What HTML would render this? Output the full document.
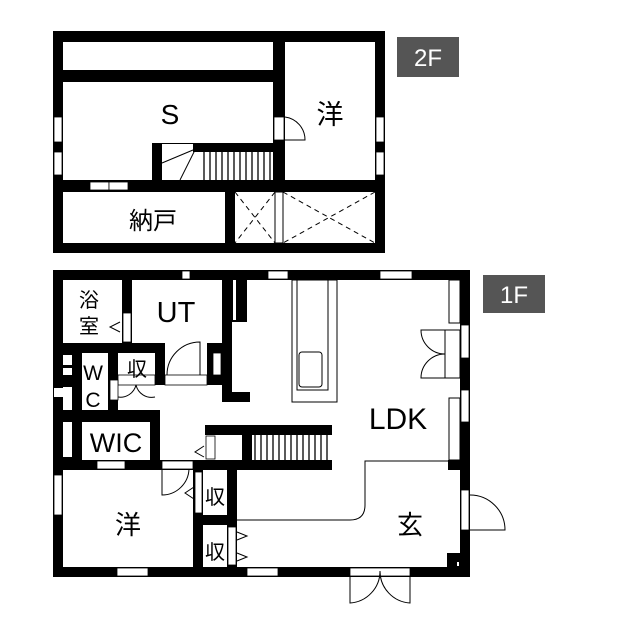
<!DOCTYPE html>
<html><head><meta charset="utf-8"><style>html,body{margin:0;padding:0;background:#fff}svg{display:block}</style></head><body>
<svg width="640" height="640" viewBox="0 0 640 640" xmlns="http://www.w3.org/2000/svg" font-family="Liberation Sans, Noto Sans CJK JP, sans-serif">
<rect width="640" height="640" fill="#fff"/>
<!-- ===== 2F ===== -->
<rect x="53" y="31" width="332" height="222" fill="#000"/>
<rect x="63" y="42" width="312" height="201" fill="#fff"/>
<rect x="63" y="70" width="210" height="12" fill="#000"/>
<rect x="273" y="42" width="12" height="145" fill="#000"/>
<rect x="63" y="180" width="312" height="12" fill="#000"/>
<rect x="225" y="192" width="10" height="51" fill="#000"/>
<rect x="275" y="192" width="8" height="51" fill="#fff" stroke="#000" stroke-width="1"/>
<rect x="152" y="143" width="10" height="37" fill="#000"/>
<rect x="193" y="143" width="92" height="9" fill="#000"/>
<line x1="162" y1="143.5" x2="193" y2="143.5" stroke="#000"/>
<line x1="162" y1="163" x2="193" y2="150" stroke="#000"/>
<line x1="180" y1="180" x2="195" y2="150" stroke="#000"/>
<g stroke="#000" stroke-width="1.3">
<line x1="204" y1="152" x2="204" y2="180"/><line x1="210" y1="152" x2="210" y2="180"/><line x1="216" y1="152" x2="216" y2="180"/><line x1="222" y1="152" x2="222" y2="180"/><line x1="228" y1="152" x2="228" y2="180"/><line x1="234" y1="152" x2="234" y2="180"/><line x1="240" y1="152" x2="240" y2="180"/><line x1="246" y1="152" x2="246" y2="180"/><line x1="252" y1="152" x2="252" y2="180"/><line x1="258" y1="152" x2="258" y2="180"/><line x1="264" y1="152" x2="264" y2="180"/><line x1="270" y1="152" x2="270" y2="180"/>
</g>
<g fill="#fff" stroke="#000" stroke-width="0.8">
<rect x="54" y="117" width="8" height="25"/><rect x="54" y="152" width="8" height="23"/>
<rect x="376" y="117" width="8" height="25"/><rect x="376" y="152" width="8" height="23"/>
<rect x="90" y="182" width="19" height="8"/><rect x="109" y="182" width="19" height="8"/>
<rect x="274" y="117" width="10" height="23"/>
</g>
<path d="M285 117 A23 23 0 0 1 305 140 L285 140" fill="none" stroke="#000"/>
<g stroke="#000" stroke-dasharray="5,4" fill="none">
<line x1="235" y1="192" x2="275" y2="243"/><line x1="275" y1="192" x2="235" y2="243"/>
<line x1="283" y1="192" x2="375" y2="243"/><line x1="375" y1="192" x2="283" y2="243"/>
</g>
<text x="170" y="124" font-size="28" text-anchor="middle">S</text>
<text x="330" y="124" font-size="27" text-anchor="middle">洋</text>
<text x="153" y="229" font-size="24" text-anchor="middle">納戸</text>
<rect x="397" y="37" width="62" height="40" fill="#555"/>
<text x="428" y="66" font-size="24" fill="#fff" text-anchor="middle">2F</text>

<!-- ===== 1F ===== -->
<rect x="53" y="270" width="417" height="307" fill="#000"/>
<rect x="63" y="280" width="397" height="287" fill="#fff"/>
<rect x="122" y="280" width="10" height="63" fill="#000"/>
<rect x="123" y="313" width="8" height="29" fill="#fff" stroke="#000" stroke-width="0.8"/>
<path d="M120 322 L110 327 L120 332" fill="none" stroke="#000"/>
<rect x="63" y="343" width="102" height="10" fill="#000"/>
<rect x="53" y="343" width="29" height="127" fill="#000"/>
<g fill="#fff"><rect x="63" y="355" width="9" height="10"/><rect x="63" y="368" width="9" height="7"/><rect x="63" y="387" width="9" height="23"/><rect x="63" y="422" width="9" height="35"/><rect x="54" y="388" width="9" height="9"/></g>
<rect x="108" y="353" width="10" height="57" fill="#000"/>
<rect x="155" y="343" width="10" height="42" fill="#000"/>
<rect x="72" y="410" width="88" height="12" fill="#000"/>
<rect x="150" y="410" width="10" height="60" fill="#000"/>
<rect x="53" y="460" width="140" height="10" fill="#000"/>
<rect x="193" y="460" width="44" height="10" fill="#000"/>
<rect x="118" y="375" width="37" height="10" fill="#fff" stroke="#000" stroke-width="0.8"/>
<rect x="110" y="380" width="8" height="20" fill="#fff" stroke="#000" stroke-width="0.8"/>
<path d="M118 397 A16 16 0 0 0 136 385 M155 397 A16 16 0 0 1 136 385" fill="none" stroke="#000"/>
<rect x="165" y="375" width="42" height="10" fill="#fff" stroke="#000" stroke-width="0.8"/>
<path d="M167 375 A33 33 0 0 1 200 342 L200 375" fill="none" stroke="#000"/>
<rect x="207" y="343" width="15" height="42" fill="#000"/>
<rect x="213" y="353" width="8" height="22" fill="#fff" stroke="#000" stroke-width="0.8"/>
<rect x="222" y="280" width="10" height="122" fill="#000"/>
<rect x="222" y="392" width="28" height="10" fill="#000"/>
<rect x="232" y="280" width="15" height="42" fill="#000"/>
<rect x="233" y="280" width="3" height="40" fill="#fff"/>
<rect x="205" y="425" width="127" height="10" fill="#000"/>
<rect x="205" y="460" width="127" height="10" fill="#000"/>
<rect x="242" y="435" width="10" height="25" fill="#000"/>
<rect x="206" y="436" width="9" height="23" fill="#fff" stroke="#000" stroke-width="0.8"/>
<path d="M204 446 L195 452 L204 457" fill="none" stroke="#000"/>
<g stroke="#000" stroke-width="1.3">
<line x1="255" y1="435" x2="255" y2="460"/><line x1="261" y1="435" x2="261" y2="460"/><line x1="267" y1="435" x2="267" y2="460"/><line x1="273" y1="435" x2="273" y2="460"/><line x1="279" y1="435" x2="279" y2="460"/><line x1="285" y1="435" x2="285" y2="460"/><line x1="291" y1="435" x2="291" y2="460"/><line x1="297" y1="435" x2="297" y2="460"/><line x1="303" y1="435" x2="303" y2="460"/><line x1="309" y1="435" x2="309" y2="460"/><line x1="315" y1="435" x2="315" y2="460"/><line x1="321" y1="435" x2="321" y2="460"/><line x1="327" y1="435" x2="327" y2="460"/>
</g>
<rect x="162" y="461" width="31" height="8" fill="#fff" stroke="#000" stroke-width="0.8"/>
<path d="M162 469 L162 495 A27 27 0 0 0 189 469" fill="none" stroke="#000"/>
<rect x="193" y="470" width="10" height="97" fill="#000"/>
<rect x="195" y="472" width="7" height="41" fill="#fff" stroke="#000" stroke-width="0.8"/>
<path d="M194 487 L185 493 L194 499" fill="none" stroke="#000"/>
<rect x="227" y="460" width="10" height="107" fill="#000"/>
<rect x="193" y="515" width="44" height="10" fill="#000"/>
<rect x="228" y="527" width="8" height="38" fill="#fff" stroke="#000" stroke-width="0.8"/>
<path d="M237 532 L247 536 L237 540 M237 553 L247 557 L237 561" fill="none" stroke="#000"/>
<rect x="292" y="280" width="45" height="122" fill="#fff" stroke="#000"/>
<rect x="297" y="280" width="31" height="110" fill="#fff" stroke="#000"/>
<rect x="299" y="352" width="23" height="35" rx="3" fill="#fff" stroke="#000"/>
<rect x="449" y="280" width="11" height="43" fill="#fff" stroke="#000"/>
<rect x="445" y="330" width="15" height="48" fill="#fff" stroke="#000"/>
<path d="M445 330 L421 330 A24 24 0 0 0 445 354 A24 24 0 0 0 421 378 L445 378" fill="none" stroke="#000"/>
<rect x="449" y="398" width="11" height="62" fill="#fff" stroke="#000"/>
<rect x="448" y="460" width="12" height="10" fill="#000"/>
<path d="M448 461 L365 461 L365 505 Q365 520 350 520 L237 520" fill="none" stroke="#000"/>
<rect x="447" y="553" width="13" height="14" fill="#000"/>
<rect x="457" y="562" width="2" height="4" fill="#fff"/>
<g fill="#fff" stroke="#000" stroke-width="0.8">
<rect x="182" y="271" width="8" height="8"/><rect x="268" y="271" width="20" height="8"/><rect x="380" y="271" width="32" height="8"/>
<rect x="117" y="568" width="31" height="8"/><rect x="247" y="568" width="31" height="8"/>
<rect x="97" y="461" width="28" height="8"/>
<rect x="54" y="475" width="8" height="40"/>
<rect x="461" y="325" width="8" height="33"/><rect x="461" y="390" width="8" height="32"/>
<rect x="461" y="490" width="8" height="40"/>
<rect x="350" y="568" width="60" height="8"/>
</g>
<path d="M470 530 L505 530 A35 35 0 0 0 470 495" fill="none" stroke="#000"/>
<path d="M350 576 L350 603 A32 32 0 0 0 380 571 M410 576 L410 603 A32 32 0 0 1 380 571" fill="none" stroke="#000"/>
<g font-size="20" text-anchor="middle">
<text x="89" y="307">浴</text><text x="89" y="333">室</text>
<text x="137" y="376">収</text>
<text x="215" y="504">収</text><text x="215" y="559">収</text>
</g>
<text x="93" y="380" font-size="21" text-anchor="middle">W</text>
<text x="93" y="407" font-size="21" text-anchor="middle">C</text>
<text x="116" y="452" font-size="27" text-anchor="middle">WIC</text>
<text x="176" y="322" font-size="29" text-anchor="middle">UT</text>
<text x="128" y="534" font-size="26" text-anchor="middle">洋</text>
<text x="398" y="429" font-size="30" text-anchor="middle">LDK</text>
<text x="410" y="534" font-size="26" text-anchor="middle">玄</text>
<rect x="483" y="275" width="62" height="38" fill="#555"/>
<text x="514" y="303" font-size="24" fill="#fff" text-anchor="middle">1F</text>
</svg>
</body></html>
